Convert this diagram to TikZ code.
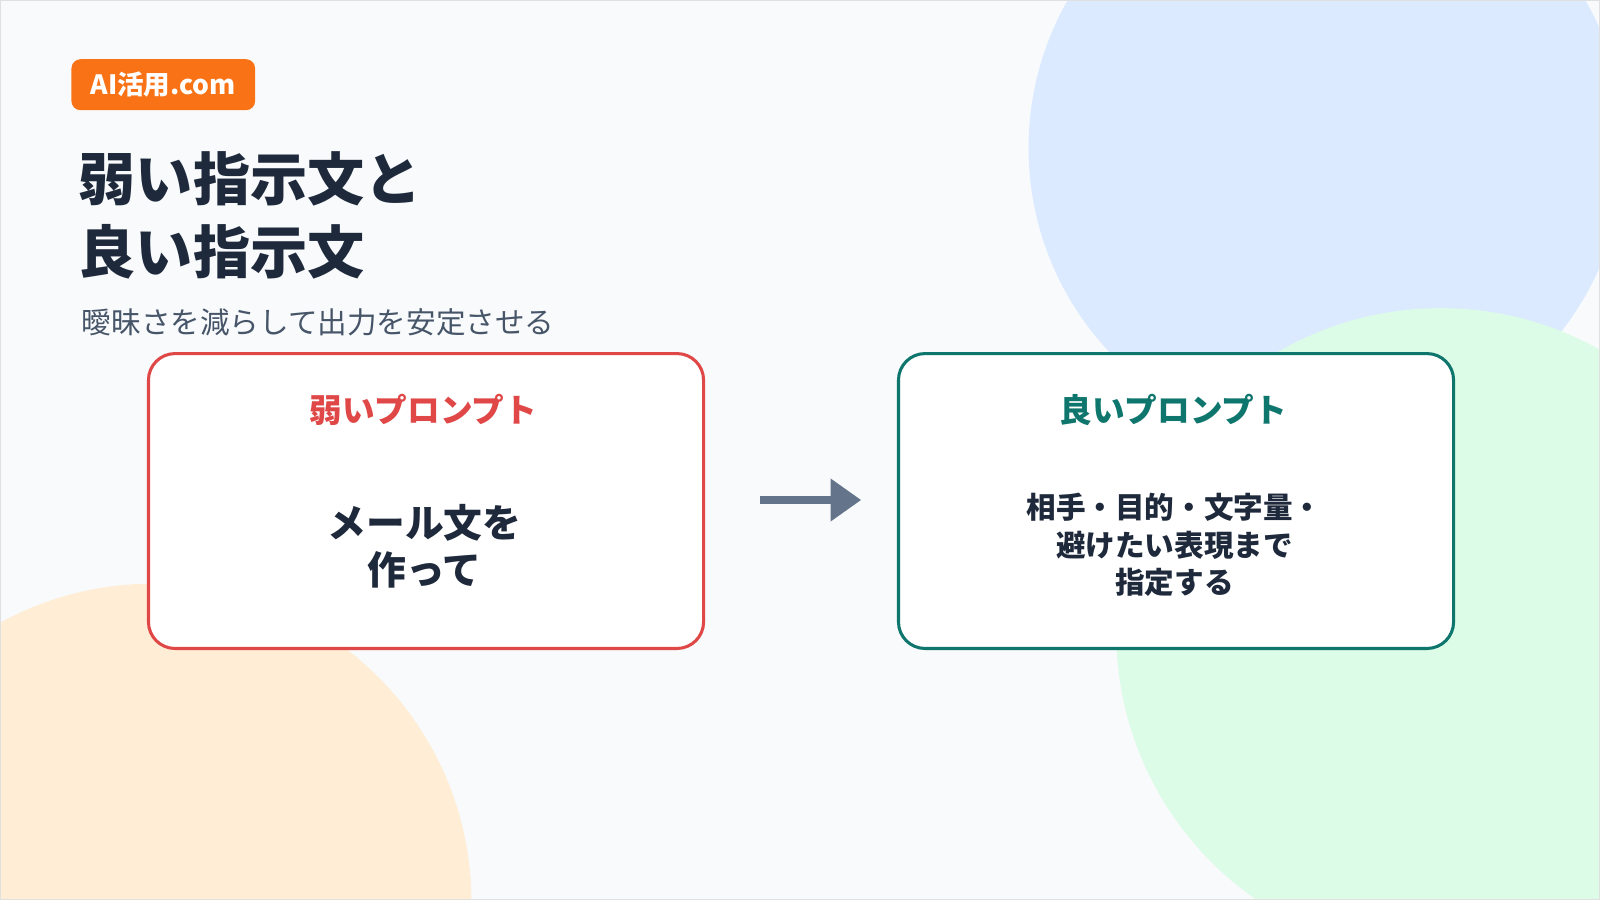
\documentclass[tikz,border=0pt]{standalone}
\usepackage{fontspec}
\setmainfont{Noto Sans CJK JP}
\usetikzlibrary{arrows.meta}
\definecolor{bg}{HTML}{F8FAFC}
\definecolor{cblue}{HTML}{DBEAFE}
\definecolor{cgreen}{HTML}{DCFCE7}
\definecolor{corange}{HTML}{FFEDD5}
\definecolor{badge}{HTML}{F97316}
\definecolor{ink}{HTML}{1E293B}
\definecolor{sub}{HTML}{475569}
\definecolor{weak}{HTML}{E04848}
\definecolor{good}{HTML}{0F766E}
\definecolor{arr}{HTML}{64748B}
\tikzset{
  card/.style={draw, line width=3pt, rounded corners=26pt, fill=white, minimum width=544pt, minimum height=289pt, anchor=north west},
  cardtitle/.style={font=\bfseries\fontsize{32}{38}\selectfont},
  body/.style={text=ink, align=center, font=\bfseries}
}
\begin{document}
\begin{tikzpicture}[x=1pt,y=-1pt]
\useasboundingbox (0,0) rectangle (1568,882);
\begin{scope}
\clip (0,0) rectangle (1568,882);
\fill[bg] (0,0) rectangle (1568,882);
\fill[cblue] (1300,145) circle (292);
\fill[cgreen] (1412,620) circle (318);
\fill[corange] (150,884) circle (312);
\end{scope}
\draw[black!12, line width=1pt] (0.5,0.5) rectangle (1567.5,881.5);
\node[fill=badge, rounded corners=9pt, minimum width=180pt, minimum height=50pt, text=white, font=\bfseries\fontsize{26}{30}\selectfont] (badge) at (160,83) {AI活用.com};
\node[anchor=north west, text=ink, align=left, inner sep=0pt, font=\bfseries\fontsize{56}{72}\selectfont] (title) at (77,148) {弱い指示文と\\良い指示文};
\node[anchor=west, text=sub, inner sep=0pt, font=\fontsize{29}{34}\selectfont] (subtitle) at (80,316) {曖昧さを減らして出力を安定させる};
\node[card, draw=weak] (weakbox) at (144,345) {};
\node[cardtitle, text=weak] (weakt) at (415,402) {弱いプロンプト};
\node[body, font=\bfseries\fontsize{38}{46}\selectfont] (weakb) at (416,535) {メール文を\\作って};
\node[card, draw=good] (goodbox) at (879,345) {};
\node[cardtitle, text=good] (goodt) at (1150,402) {良いプロンプト};
\node[body, font=\bfseries\fontsize{29}{37}\selectfont] (goodb) at (1151,534) {相手・目的・文字量・\\避けたい表現まで\\指定する};
\coordinate (a1) at (745,490);
\coordinate (a2) at (844,490);
\draw[arr, line width=8pt, -{Triangle[length=30pt,width=40pt]}] (a1) -- (a2);
\end{tikzpicture}
\end{document}
